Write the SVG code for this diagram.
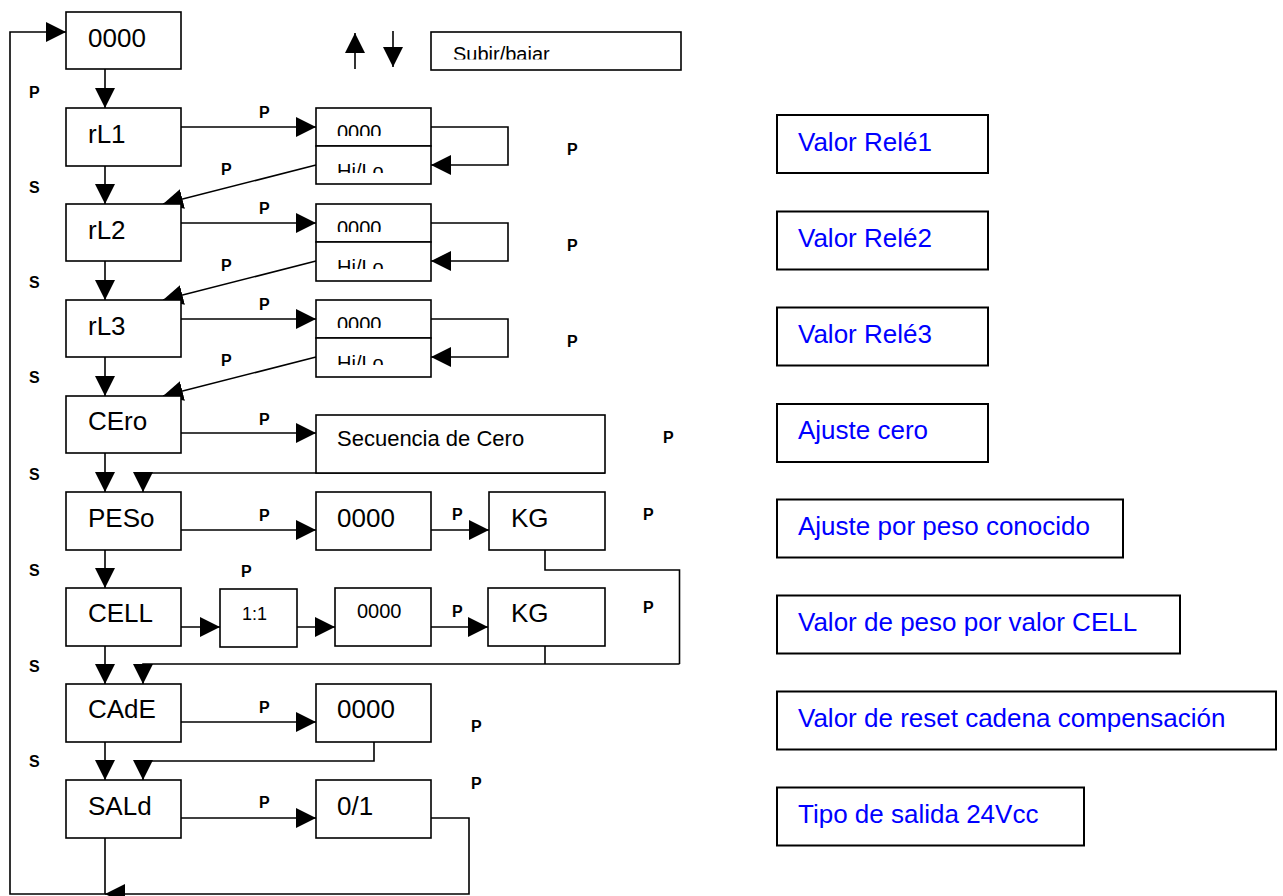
<svg xmlns="http://www.w3.org/2000/svg" width="1283" height="896" viewBox="0 0 1283 896">
<style>
.box{fill:#fff;stroke:#000;stroke-width:1.6}
.dbox{fill:#fff;stroke:#000;stroke-width:2}
.t{font-family:"Liberation Sans",Arial,sans-serif;font-size:26px;fill:#000}
.ts{font-family:"Liberation Sans",Arial,sans-serif;font-size:20px;fill:#000}
.d{font-family:"Liberation Sans",Arial,sans-serif;font-size:26px;fill:#0000ff}
.l{font-family:"Liberation Sans",Arial,sans-serif;font-size:16px;font-weight:bold;fill:#000}
.c{fill:none;stroke:#000;stroke-width:1.6}
</style>
<defs>
<marker id="a" markerUnits="userSpaceOnUse" markerWidth="20" markerHeight="20" refX="20" refY="10" orient="auto">
<path d="M0,0 L20,10 L0,20 z" fill="#000"/>
</marker>
<clipPath id="cs"><rect x="432" y="33" width="248" height="26.5"/></clipPath>
<clipPath id="c1a"><rect x="317" y="109" width="113" height="27"/></clipPath>
<clipPath id="c1b"><rect x="317" y="148" width="113" height="25"/></clipPath>
<clipPath id="c2a"><rect x="317" y="205" width="113" height="27"/></clipPath>
<clipPath id="c2b"><rect x="317" y="244" width="113" height="25"/></clipPath>
<clipPath id="c3a"><rect x="317" y="301" width="113" height="27"/></clipPath>
<clipPath id="c3b"><rect x="317" y="340" width="113" height="25"/></clipPath>
</defs>

<g id="connectors">
<path class="c" d="M105,838 V894 H10 V32 H66" marker-end="url(#a)"/>
<path class="c" d="M431,818 H469 V894 H105" marker-end="url(#a)"/>
<path class="c" d="M105,69 V108" marker-end="url(#a)"/>
<path class="c" d="M105,166 V204" marker-end="url(#a)"/>
<path class="c" d="M105,261 V300" marker-end="url(#a)"/>
<path class="c" d="M105,357 V396" marker-end="url(#a)"/>
<path class="c" d="M105,453 V492" marker-end="url(#a)"/>
<path class="c" d="M105,550 V588" marker-end="url(#a)"/>
<path class="c" d="M105,646 V684" marker-end="url(#a)"/>
<path class="c" d="M105,742 V780" marker-end="url(#a)"/>
<path class="c" d="M181,127 H316" marker-end="url(#a)"/>
<path class="c" d="M431,127 H508 V165 H431" marker-end="url(#a)"/>
<path class="c" d="M316,165 L163,204" marker-end="url(#a)"/>
<path class="c" d="M181,223 H316" marker-end="url(#a)"/>
<path class="c" d="M431,223 H508 V261 H431" marker-end="url(#a)"/>
<path class="c" d="M316,261 L163,300" marker-end="url(#a)"/>
<path class="c" d="M181,319 H316" marker-end="url(#a)"/>
<path class="c" d="M431,319 H508 V357 H431" marker-end="url(#a)"/>
<path class="c" d="M316,357 L163,396" marker-end="url(#a)"/>
<path class="c" d="M181,433 H316" marker-end="url(#a)"/>
<path class="c" d="M605,473 H143 V492" marker-end="url(#a)"/>
<path class="c" d="M181,530 H316" marker-end="url(#a)"/>
<path class="c" d="M431,530 H489" marker-end="url(#a)"/>
<path class="c" d="M545,550 V570 H679.5 V664"/>
<path class="c" d="M181,627 H220" marker-end="url(#a)"/>
<path class="c" d="M297,627 H335" marker-end="url(#a)"/>
<path class="c" d="M431,627 H488" marker-end="url(#a)"/>
<path class="c" d="M545,646 V664"/>
<path class="c" d="M679.5,664 H143 V684" marker-end="url(#a)"/>
<path class="c" d="M181,722 H316" marker-end="url(#a)"/>
<path class="c" d="M374,742 V761 H143 V780" marker-end="url(#a)"/>
<path class="c" d="M181,818 H316" marker-end="url(#a)"/>
<path class="c" d="M355,69 V33" marker-end="url(#a)"/>
<path class="c" d="M393,31 V67" marker-end="url(#a)"/>
</g>

<g id="labels">
<text class="l" x="29" y="98">P</text>
<text class="l" x="29" y="193">S</text>
<text class="l" x="29" y="288">S</text>
<text class="l" x="29" y="383">S</text>
<text class="l" x="29" y="480">S</text>
<text class="l" x="29" y="576">S</text>
<text class="l" x="29" y="672">S</text>
<text class="l" x="29" y="767">S</text>
<text class="l" x="259" y="118">P</text>
<text class="l" x="221" y="175">P</text>
<text class="l" x="567" y="155">P</text>
<text class="l" x="259" y="214">P</text>
<text class="l" x="221" y="271">P</text>
<text class="l" x="567" y="251">P</text>
<text class="l" x="259" y="310">P</text>
<text class="l" x="221" y="366">P</text>
<text class="l" x="567" y="347">P</text>
<text class="l" x="259" y="425">P</text>
<text class="l" x="663" y="443">P</text>
<text class="l" x="259" y="521">P</text>
<text class="l" x="452" y="520">P</text>
<text class="l" x="643" y="520">P</text>
<text class="l" x="241" y="577">P</text>
<text class="l" x="452" y="617">P</text>
<text class="l" x="643" y="613">P</text>
<text class="l" x="259" y="713">P</text>
<text class="l" x="471" y="732">P</text>
<text class="l" x="259" y="808">P</text>
<text class="l" x="471" y="789">P</text>
</g>

<g id="n0000"><rect class="box" x="66" y="12" width="115" height="57"/><text class="t" x="88" y="47">0000</text></g>
<g id="legend"><rect class="box" x="431" y="32" width="250" height="38"/><text class="ts" x="453" y="61" clip-path="url(#cs)">Subir/bajar</text></g>

<g id="rL1"><rect class="box" x="66" y="108" width="115" height="58"/><text class="t" x="88" y="143">rL1</text></g>
<g id="rL1v"><rect class="box" x="316" y="108" width="115" height="38"/><rect class="box" x="316" y="146" width="115" height="38"/>
<text class="ts" x="337" y="139" clip-path="url(#c1a)">0000</text><text class="ts" x="337" y="178" clip-path="url(#c1b)">Hi/Lo</text></g>

<g id="rL2"><rect class="box" x="66" y="204" width="115" height="57"/><text class="t" x="88" y="239">rL2</text></g>
<g id="rL2v"><rect class="box" x="316" y="204" width="115" height="38"/><rect class="box" x="316" y="242" width="115" height="39"/>
<text class="ts" x="337" y="235" clip-path="url(#c2a)">0000</text><text class="ts" x="337" y="274" clip-path="url(#c2b)">Hi/Lo</text></g>

<g id="rL3"><rect class="box" x="66" y="300" width="115" height="57"/><text class="t" x="88" y="335">rL3</text></g>
<g id="rL3v"><rect class="box" x="316" y="300" width="115" height="38"/><rect class="box" x="316" y="338" width="115" height="39"/>
<text class="ts" x="337" y="331" clip-path="url(#c3a)">0000</text><text class="ts" x="337" y="370" clip-path="url(#c3b)">Hi/Lo</text></g>

<g id="CEro"><rect class="box" x="66" y="396" width="115" height="57"/><text class="t" x="88" y="430">CEro</text></g>
<g id="secuencia"><rect class="box" x="316" y="415" width="289" height="58"/><text class="t" x="337" y="446" style="font-size:22px">Secuencia de Cero</text></g>

<g id="PESo"><rect class="box" x="66" y="492" width="115" height="58"/><text class="t" x="88" y="527">PESo</text></g>
<g id="peso0000"><rect class="box" x="316" y="492" width="115" height="58"/><text class="t" x="337" y="527">0000</text></g>
<g id="pesoKG"><rect class="box" x="489" y="492" width="116" height="58"/><text class="t" x="511" y="527">KG</text></g>

<g id="CELL"><rect class="box" x="66" y="588" width="115" height="58"/><text class="t" x="88" y="622">CELL</text></g>
<g id="cell11"><rect class="box" x="220" y="589" width="77" height="58"/><text class="ts" x="242" y="620" style="font-size:18px">1:1</text></g>
<g id="cell0000"><rect class="box" x="335" y="588" width="96" height="58"/><text class="ts" x="357" y="618">0000</text></g>
<g id="cellKG"><rect class="box" x="488" y="588" width="117" height="58"/><text class="t" x="511" y="622">KG</text></g>

<g id="CAdE"><rect class="box" x="66" y="684" width="115" height="58"/><text class="t" x="88" y="718">CAdE</text></g>
<g id="cade0000"><rect class="box" x="316" y="684" width="115" height="58"/><text class="t" x="337" y="718">0000</text></g>

<g id="SALd"><rect class="box" x="66" y="780" width="115" height="58"/><text class="t" x="88" y="815">SALd</text></g>
<g id="sald01"><rect class="box" x="316" y="780" width="115" height="58"/><text class="t" x="337" y="815">0/1</text></g>

<g id="desc1"><rect class="dbox" x="777" y="115" width="211" height="58"/><text class="d" x="798" y="151">Valor Relé1</text></g>
<g id="desc2"><rect class="dbox" x="777" y="211.5" width="211" height="58"/><text class="d" x="798" y="247">Valor Relé2</text></g>
<g id="desc3"><rect class="dbox" x="777" y="307.5" width="211" height="58"/><text class="d" x="798" y="343">Valor Relé3</text></g>
<g id="desc4"><rect class="dbox" x="777" y="404" width="211" height="58"/><text class="d" x="798" y="439">Ajuste cero</text></g>
<g id="desc5"><rect class="dbox" x="777" y="499.5" width="346" height="58"/><text class="d" x="798" y="535">Ajuste por peso conocido</text></g>
<g id="desc6"><rect class="dbox" x="777" y="595.5" width="403" height="58"/><text class="d" x="798" y="631">Valor de peso por valor CELL</text></g>
<g id="desc7"><rect class="dbox" x="777" y="691.5" width="499" height="58"/><text class="d" x="798" y="727">Valor de reset cadena compensación</text></g>
<g id="desc8"><rect class="dbox" x="777" y="787.5" width="307" height="58"/><text class="d" x="798" y="823">Tipo de salida 24Vcc</text></g>
</svg>
